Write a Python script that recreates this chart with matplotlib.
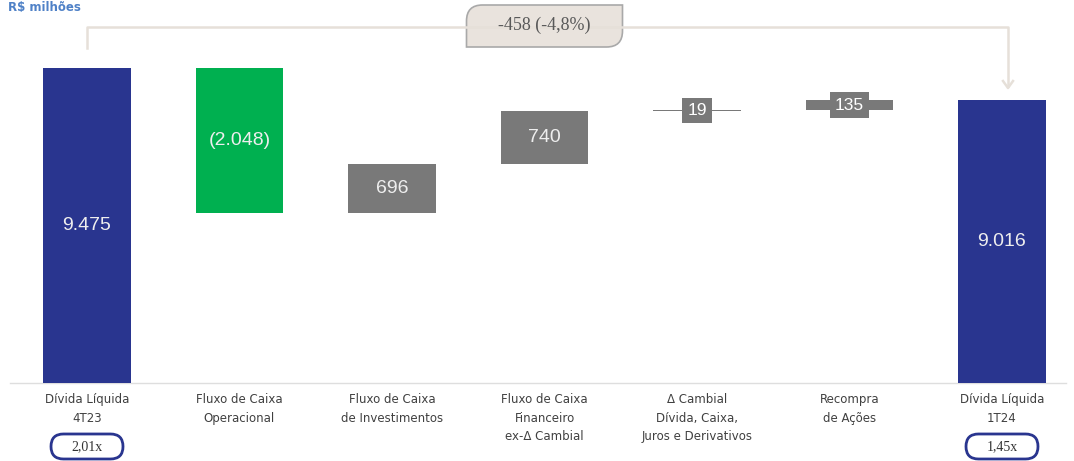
import matplotlib
matplotlib.use("Agg")
import matplotlib.pyplot as plt
import numpy as np
from matplotlib.path import Path
from matplotlib.patches import PathPatch, FancyBboxPatch
from matplotlib.transforms import Affine2D

# data (R$ milhões)
categories = ["Dívida Líquida\n4T23", "Fluxo de Caixa\nOperacional",
              "Fluxo de Caixa\nde Investimentos", "Fluxo de Caixa\nFinanceiro\nex-Δ Cambial",
              "Δ Cambial\nDívida, Caixa,\nJuros e Derivativos", "Recompra\nde Ações",
              "Dívida Líquida\n1T24"]
start_value = 9475
steps = [-2048, 696, 740, 19, 135]
end_value = 9016
ratios = ["2,01x", "1,45x"]
change_label = "-458 (-4,8%)"

NAVY = "#29358f"
GREEN = "#00b050"
GRAY = "#797979"
W, H = 1074, 461

# broken scale: the first (big) drop is stretched, as in the original slide
brk = start_value + steps[0]
span = -steps[0]

def fwd(v):
    v = np.asarray(v, dtype=float)
    return np.where(v <= brk, v * 170.0 / brk, 170.0 + (v - brk) * 145.0 / span)

def inv(p):
    p = np.asarray(p, dtype=float)
    return np.where(p <= 170.0, p * brk / 170.0, brk + (p - 170.0) * span / 145.0)

fig = plt.figure(figsize=(W / 100, H / 100), dpi=100)
ax = fig.add_axes([0, 0, 1, 1])
ax.set_yscale("function", functions=(fwd, inv))
ax.set_xlim(-87 / 152.5, (W - 87) / 152.5)
ax.set_ylim(float(inv(-78)), float(inv(383)))
ax.axis("off")

# pixel transform (origin top-left)
px = Affine2D().scale(1 / W, -1 / H).translate(0, 1) + fig.transFigure

def xpix(i):
    return ax.transData.transform((i, 0))[0]

# waterfall
bottoms, heights, colors, labels = [0], [start_value], [NAVY], [f"{start_value:,}".replace(",", ".")]
level = start_value
for s in steps:
    bottoms.append(min(level, level + s))
    heights.append(abs(s))
    colors.append(GREEN if s < 0 else GRAY)
    txt = f"{abs(s):,}".replace(",", ".")
    labels.append(f"({txt})" if s < 0 else txt)
    level += s
bottoms.append(0)
heights.append(end_value)
colors.append(NAVY)
labels.append(f"{end_value:,}".replace(",", "."))

x = np.arange(len(categories))
ax.bar(x, heights, bottom=bottoms, width=0.577, color=colors, edgecolor="none", zorder=2)
ax.axhline(0, xmin=10 / W, xmax=1066 / W, color="#dedede", lw=1, zorder=1)

for i, (b, h, lab) in enumerate(zip(bottoms, heights, labels)):
    mid_px = (fwd(b) + fwd(b + h)) / 2
    yc = float(inv(mid_px))
    if h < 300:
        ax.text(i, yc, lab, ha="center", va="center", color="white",
                fontsize=12.5, family="Liberation Sans", zorder=4,
                bbox=dict(boxstyle="square,pad=0.3", fc=GRAY, ec="none"))
    else:
        ax.text(i, yc, lab, ha="center", va="center", color="#eeeeee",
                fontsize=14, family="Liberation Sans", zorder=4)

# category labels
for i, c in enumerate(categories):
    ax.text(xpix(i), 393, c, transform=px, ha="center", va="top", fontsize=8.5,
            color="#404040", linespacing=1.55)

# leverage ratio pills
for i, r in zip([0, len(categories) - 1], ratios):
    cx = xpix(i)
    pill = FancyBboxPatch((cx - 36, 434), 72, 25, boxstyle="round,pad=0,rounding_size=12.5",
                          transform=px, fc="white", ec=NAVY, lw=2, clip_on=False)
    fig.patches.append(pill)
    fig.text(cx, 447, r, transform=px, ha="center", va="center", fontsize=10,
             family="Liberation Serif", color="#333333")

# bracket with arrow
x0, x1 = xpix(0), xpix(len(categories) - 1) + 6
line_c = "#e6e0d9"
fig.lines.append(plt.Line2D([x0, x0, x1, x1], [48, 27, 27, 86], transform=px,
                            color=line_c, lw=1.8))
fig.lines.append(plt.Line2D([x1 - 5, x1, x1 + 5], [81, 88, 81], transform=px,
                            color=line_c, lw=1.8))

# tab-shaped change box
cx = (xpix(0) + xpix(len(categories) - 1)) / 2
l, r, t, b, rad = cx - 78, cx + 78, 5, 47, 16
verts = [(l + rad, t), (r, t), (r, b - rad), (r, b), (r - rad, b), (l, b),
         (l, t + rad), (l, t), (l + rad, t), (l + rad, t)]
codes = [Path.MOVETO, Path.LINETO, Path.LINETO, Path.CURVE3, Path.CURVE3, Path.LINETO,
         Path.LINETO, Path.CURVE3, Path.CURVE3, Path.CLOSEPOLY]
tab = PathPatch(Path(verts, codes), transform=px, fc="#e9e3dd", ec="#a9a9a9", lw=1.2)
fig.patches.append(tab)
fig.text(cx, 25, change_label, transform=px, ha="center", va="center", fontsize=13,
         family="Liberation Serif", color="#595959")

fig.text(8, 8, "R$ milhões", transform=px, ha="left", va="center", fontsize=8.5,
         fontweight="bold", color="#4f81c7")

fig.savefig("out.png", dpi=100)
